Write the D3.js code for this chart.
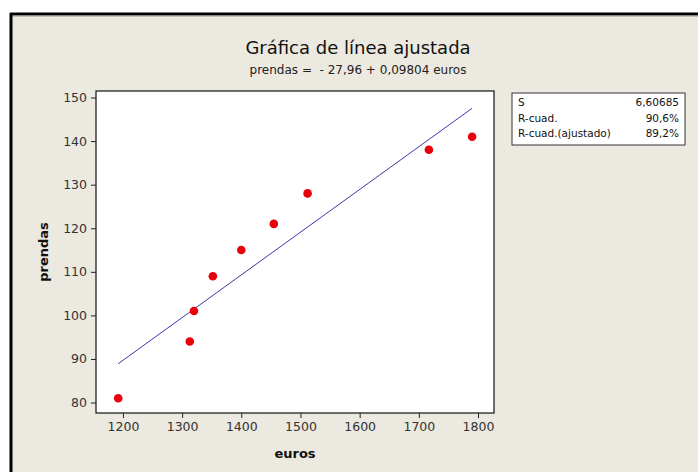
<!DOCTYPE html>
<html>
<head>
<meta charset="utf-8">
<script src="https://cdn.jsdelivr.net/npm/d3@7"></script>
<style>
  body { margin: 0; background: #fff; }
  text { font-family: "DejaVu Sans", Tahoma, sans-serif; white-space: pre; }
</style>
</head>
<body>
<div id="chart"></div>
<script>
// datos
const euros   = [1192, 1313, 1320, 1352, 1400, 1455, 1512, 1717, 1790]
const prendas = [81, 94, 101, 109, 115, 121, 128, 138, 141]
const coef = [-27.96, 0.09804]   // intercepto, pendiente
const xTicks = [1200, 1300, 1400, 1500, 1600, 1700, 1800]
const yTicks = [80, 90, 100, 110, 120, 130, 140, 150]
const statLabels = ["S", "R-cuad.", "R-cuad.(ajustado)"]
const statValues = ["6,60685", "90,6%", "89,2%"]

const WD = 698, HT = 472
const margin = { left: 96, right: 204, top: 91, bottom: 59 }
const width = WD - margin.left - margin.right
const height = HT - margin.top - margin.bottom

var svg = d3.select("#chart").append("svg")
    .attr("width", WD)
    .attr("height", HT)

// fondo y marco
svg.append("rect").attr("x", 11).attr("y", 14).attr("width", WD - 11).attr("height", HT - 14)
    .attr("fill", "#ece9e0")
svg.append("line").attr("x1", 10).attr("x2", WD).attr("y1", 14).attr("y2", 14)
    .attr("stroke", "#000").attr("stroke-width", 3)
svg.append("line").attr("x1", 11).attr("x2", WD).attr("y1", 16).attr("y2", 16)
    .attr("stroke", "#9a9890").attr("stroke-width", 1)
svg.append("line").attr("x1", 11).attr("x2", 11).attr("y1", 13).attr("y2", HT)
    .attr("stroke", "#000").attr("stroke-width", 3)

// titulos
svg.append("text")
    .attr("x", 358).attr("y", 54)
    .attr("text-anchor", "middle")
    .attr("font-size", "18px")
    .attr("fill", "#111")
    .text("Gráfica de línea ajustada")
svg.append("text")
    .attr("x", 358).attr("y", 74)
    .attr("text-anchor", "middle")
    .attr("font-size", "12px")
    .attr("fill", "#222")
    .text("prendas =  - 27,96 + 0,09804 euros")

const xs = d3.scaleLinear().domain([1154.5, 1827]).range([0, width])
const ys = d3.scaleLinear().domain([77.6, 151.5]).range([height, 0])

var g = svg.append("g")
    .attr("transform", "translate(" + margin.left + "," + margin.top + ")")

g.append("rect")
    .attr("width", width).attr("height", height)
    .attr("fill", "#fff").attr("stroke", "#111").attr("stroke-width", 1.2)

// ejes
var xAxis = g.append("g")
    .attr("transform", "translate(0," + height + ")")
    .call(d3.axisBottom(xs).tickValues(xTicks).tickSize(5).tickPadding(4).tickFormat(d3.format("d")))
var yAxis = g.append("g")
    .call(d3.axisLeft(ys).tickValues(yTicks).tickSize(5).tickPadding(4).tickFormat(d3.format("d")))
;[xAxis, yAxis].forEach(a => {
  a.select(".domain").remove()
  a.selectAll("line").attr("stroke", "#222")
  a.selectAll("text").attr("font-size", "12.5px").attr("fill", "#333")
    .attr("font-family", "\"DejaVu Sans\", Tahoma, sans-serif")
})

// etiquetas de ejes
g.append("text")
    .attr("x", width / 2).attr("y", height + 45)
    .attr("text-anchor", "middle")
    .attr("font-size", "13px").attr("font-weight", "bold").attr("fill", "#111")
    .text("euros")
g.append("text")
    .attr("transform", "rotate(-90)")
    .attr("x", -height / 2).attr("y", -48)
    .attr("text-anchor", "middle")
    .attr("font-size", "13px").attr("font-weight", "bold").attr("fill", "#111")
    .text("prendas")

// linea ajustada
const xmin = d3.min(euros), xmax = d3.max(euros)
g.append("line")
    .attr("x1", xs(xmin)).attr("y1", ys(coef[0] + coef[1] * xmin))
    .attr("x2", xs(xmax)).attr("y2", ys(coef[0] + coef[1] * xmax))
    .attr("stroke", "#3a3aaa").attr("stroke-width", 1)

// puntos
g.selectAll("circle")
    .data(euros)
    .enter()
    .append("circle")
        .attr("cx", d => xs(d))
        .attr("cy", (d, i) => ys(prendas[i]))
        .attr("r", 4.3)
        .attr("fill", "#e8000b")

// cuadro de estadisticas
var box = svg.append("g").attr("transform", "translate(512,93)")
box.append("rect")
    .attr("width", 173).attr("height", 52)
    .attr("fill", "#fff").attr("stroke", "#333").attr("stroke-width", 1)
box.selectAll("text.lab")
    .data(statLabels)
    .enter().append("text")
        .attr("class", "lab")
        .attr("x", 6).attr("y", (d, i) => 13 + i * 15.5)
        .attr("font-size", "10.5px").attr("fill", "#111")
        .text(d => d)
box.selectAll("text.val")
    .data(statValues)
    .enter().append("text")
        .attr("class", "val")
        .attr("x", 167).attr("y", (d, i) => 13 + i * 15.5)
        .attr("text-anchor", "end")
        .attr("font-size", "10.5px").attr("fill", "#111")
        .text(d => d)
</script>
</body>
</html>
